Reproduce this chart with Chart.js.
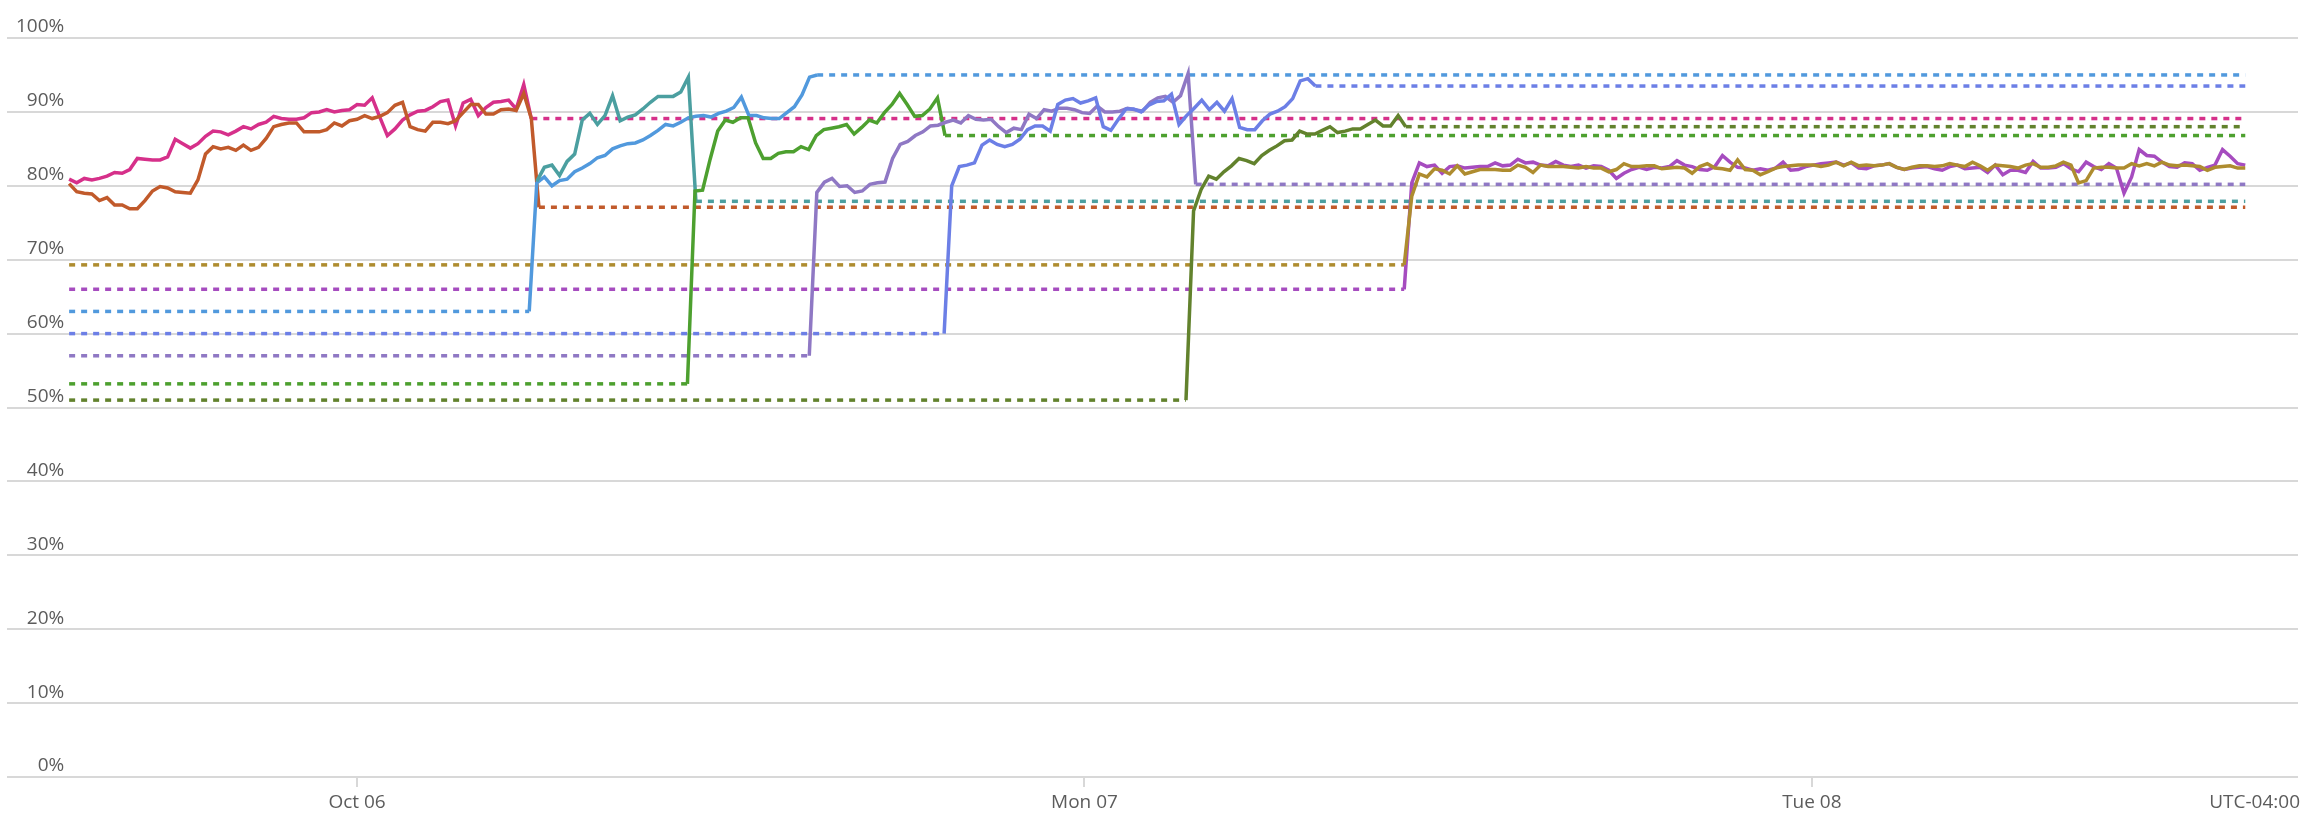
<!DOCTYPE html>
<html>
<head>
<meta charset="utf-8">
<title>Usage over time</title>
<script src="https://cdn.jsdelivr.net/npm/chart.js@4.4.1/dist/chart.umd.min.js"></script>
<style>
    html, body { margin: 0; padding: 0; background: #fff; }
    #wrap { width: 2306px; height: 824px; position: relative; }
</style>
</head>
<body>
<div id="wrap"><canvas id="usageChart"></canvas></div>
<script>
// x values are hours from Oct 06 00:00 (UTC-04:00), samples every 15 min
const hourTicks = [0, 24, 48];
const hourTickLabels = ['Oct 06', 'Mon 07', 'Tue 08'];
const zoneLabel = 'UTC-04:00';
const yTicks = [0, 10, 20, 30, 40, 50, 60, 70, 80, 90, 100];

const firstHour = -9.5;
const lastHour = 62.3;
const stepHours = 0.25;

const seriesColors = ['#d6308a', '#c15a2b', '#5199dd', '#4b9fa0', '#4da02f',
    '#8f78c4', '#6c7fe6', '#62822d', '#a64cbf', '#ae8c2f'];
// hour of first solid sample
const startHours = [-9.5, -9.5, 5.93, 5.93, 11.15, 15.17, 19.62, 27.6, 34.8, 34.8];
// flat level shown before the series starts reporting (null = none)
const levelsBefore = [null, null, 63, null, 53.2, 57, 60, 51, 66, 69.3];

const pink = [80.9, 80.4, 81.0, 80.8, 81.0, 81.3, 81.8, 81.7, 82.2, 83.7,
    83.6, 83.5, 83.5, 83.9, 86.3, 85.7, 85.1, 85.7, 86.7, 87.4,
    87.3, 86.9, 87.4, 88.0, 87.7, 88.3, 88.6, 89.4, 89.1, 89.0,
    89.0, 89.2, 89.9, 90.0, 90.3, 90.0, 90.2, 90.3, 91.0, 90.9,
    91.9, 89.3, 86.8, 87.7, 88.9, 89.6, 90.1, 90.2, 90.7, 91.4,
    91.6, 88.1, 91.2, 91.7, 89.5, 90.6, 91.3, 91.4, 91.6, 90.4,
    93.7, 89.1];
const orange = [80.3, 79.2, 79.0, 78.9, 78.0, 78.4, 77.4, 77.4, 76.9, 76.9,
    78.0, 79.3, 79.9, 79.7, 79.2, 79.1, 79.0, 80.8, 84.3, 85.3,
    85.0, 85.2, 84.8, 85.5, 84.8, 85.2, 86.4, 88.0, 88.3, 88.5,
    88.5, 87.3, 87.3, 87.3, 87.6, 88.5, 88.1, 88.8, 89.0, 89.5,
    89.1, 89.4, 89.9, 90.9, 91.3, 88.0, 87.6, 87.4, 88.6, 88.6,
    88.4, 88.8, 89.9, 91.0, 91.0, 89.7, 89.7, 90.3, 90.4, 90.2,
    92.5, 89.1, 77.1];
const skyBlue = [80.4, 81.2, 80.0, 80.7, 80.9, 81.9, 82.4, 83.0, 83.8, 84.1,
    85.0, 85.4, 85.7, 85.8, 86.2, 86.8, 87.5, 88.3, 88.1, 88.6,
    89.2, 89.4, 89.5, 89.3, 89.8, 90.1, 90.6, 92.0, 89.5, 89.5,
    89.2, 89.1, 89.1, 89.9, 90.7, 92.3, 94.7, 95.0];
const teal = [80.6, 82.5, 82.8, 81.4, 83.3, 84.3, 88.9, 89.8, 88.3, 89.5,
    92.2, 88.8, 89.3, 89.6, 90.4, 91.3, 92.1, 92.1, 92.1, 92.7,
    94.7, 77.9];
const green = [79.3, 79.4, 83.6, 87.4, 88.9, 88.6, 89.2, 89.2, 85.8, 83.7,
    83.7, 84.4, 84.6, 84.6, 85.3, 84.9, 86.8, 87.6, 87.8, 88.0,
    88.3, 87.0, 87.9, 88.9, 88.5, 89.9, 91.0, 92.5, 91.0, 89.4,
    89.5, 90.4, 91.9, 86.8];
const lavender = [79.1, 80.5, 81.0, 79.9, 80.0, 79.1, 79.3, 80.2, 80.4, 80.5,
    83.7, 85.6, 86.0, 86.8, 87.3, 88.1, 88.2, 88.6, 88.9, 88.5,
    89.5, 89.0, 88.9, 89.0, 88.0, 87.2, 87.8, 87.6, 89.7, 89.1,
    90.3, 90.1, 90.5, 90.5, 90.3, 89.9, 89.8, 90.8, 90.0, 90.0,
    90.1, 90.5, 90.3, 90.1, 91.3, 91.9, 92.1, 91.3, 92.2, 95.2,
    80.2];
const periwinkle = [80.0, 82.6, 82.8, 83.1, 85.5, 86.2, 85.6, 85.3, 85.6, 86.3,
    87.6, 88.1, 88.1, 87.4, 91.0, 91.6, 91.8, 91.2, 91.5, 91.9,
    88.0, 87.5, 89.0, 90.4, 90.4, 90.0, 90.9, 91.4, 91.5, 92.4,
    88.3, 89.5, 90.5, 91.6, 90.3, 91.3, 90.1, 91.8, 87.9, 87.6,
    87.6, 88.8, 89.7, 90.1, 90.7, 91.8, 94.2, 94.5, 93.5];
const olive = [76.6, 79.5, 81.3, 80.9, 81.9, 82.7, 83.7, 83.4, 83.0, 84.1,
    84.8, 85.4, 86.1, 86.2, 87.4, 87.0, 87.0, 87.5, 88.0, 87.2,
    87.4, 87.7, 87.7, 88.3, 88.9, 88.1, 88.1, 89.5, 88.0];
const purple = [80.4, 83.1, 82.6, 82.8, 81.7, 82.6, 82.7, 82.4, 82.5, 82.6,
    82.6, 83.1, 82.7, 82.8, 83.6, 83.1, 83.2, 82.8, 82.7, 83.3,
    82.8, 82.6, 82.8, 82.4, 82.7, 82.6, 82.1, 81.0, 81.7, 82.2,
    82.5, 82.2, 82.5, 82.4, 82.6, 83.4, 82.8, 82.6, 82.2, 82.1,
    82.6, 84.1, 83.2, 82.5, 82.4, 82.1, 82.3, 82.1, 82.4, 83.2,
    82.1, 82.2, 82.6, 82.8, 83.0, 83.1, 83.2, 82.8, 83.1, 82.4,
    82.3, 82.7, 82.8, 83.0, 82.5, 82.2, 82.4, 82.5, 82.6, 82.3,
    82.1, 82.6, 82.8, 82.3, 82.4, 82.5, 81.8, 82.8, 81.5, 82.1,
    82.1, 81.8, 83.3, 82.4, 82.4, 82.5, 83.0, 82.3, 81.9, 83.2,
    82.6, 82.2, 83.0, 82.4, 79.0, 81.2, 84.9, 84.1, 84.0, 83.2,
    82.6, 82.5, 83.1, 83.0, 82.1, 82.5, 82.8, 84.9, 84.0, 83.0,
    82.8];
const gold = [78.6, 81.6, 81.2, 82.3, 82.1, 81.6, 82.7, 81.6, 81.9, 82.2,
    82.2, 82.2, 82.1, 82.1, 82.8, 82.5, 81.8, 82.8, 82.6, 82.6,
    82.6, 82.5, 82.4, 82.6, 82.4, 82.4, 81.9, 82.2, 83.0, 82.6,
    82.6, 82.7, 82.7, 82.3, 82.4, 82.5, 82.4, 81.7, 82.6, 83.0,
    82.4, 82.3, 82.1, 83.5, 82.2, 82.1, 81.5, 81.9, 82.4, 82.6,
    82.7, 82.8, 82.8, 82.8, 82.6, 82.8, 83.2, 82.7, 83.2, 82.7,
    82.8, 82.7, 82.8, 83.0, 82.5, 82.2, 82.5, 82.7, 82.7, 82.6,
    82.7, 83.0, 82.8, 82.6, 83.2, 82.7, 82.1, 82.8, 82.7, 82.6,
    82.4, 82.8, 83.0, 82.5, 82.5, 82.7, 83.2, 82.8, 80.4, 80.7,
    82.4, 82.5, 82.5, 82.4, 82.4, 83.0, 82.7, 83.0, 82.7, 83.2,
    82.8, 82.7, 82.8, 82.7, 82.6, 82.1, 82.5, 82.6, 82.7, 82.4,
    82.4];

const seriesValues = [pink, orange, skyBlue, teal, green, lavender, periwinkle, olive, purple, gold];

const labelFont = { family: "'Open Sans', 'Noto Sans', sans-serif", size: 19 };
const labelColor = '#5c5c5c';
const gridColor = '#d8d8d8';
const lineWidth = 3.5;

function buildDatasets() {
    const dotted = [];
    const solid = [];
    seriesValues.forEach((vals, i) => {
        const color = seriesColors[i];
        const t0 = startHours[i];
        const pts = vals.map((v, k) => ({ x: t0 + k * stepHours, y: v }));
        const before = levelsBefore[i];
        if (before !== null) {
            // jump from the flat level into the first sample is drawn solid
            pts.unshift({ x: t0 - stepHours, y: before });
            dotted.push({ data: [{ x: firstHour, y: before }, { x: t0 - stepHours, y: before }], color });
        }
        const last = pts[pts.length - 1];
        if (last.x < lastHour - 0.1) {
            dotted.push({ data: [{ x: last.x, y: last.y }, { x: lastHour, y: last.y }], color });
        }
        solid.push({
            data: pts, borderColor: color, borderWidth: lineWidth,
            pointRadius: 0, tension: 0, order: 50 - i
        });
    });
    return dotted.map(d => ({
        data: d.data, borderColor: d.color, borderWidth: lineWidth, borderDash: [6, 6],
        pointRadius: 0, order: 100
    })).concat(solid);
}

// time zone caption at the right end of the x axis
const zoneCaption = {
    id: 'zoneCaption',
    afterDraw(chart) {
        const { ctx, chartArea } = chart;
        const xs = chart.scales.x;
        ctx.save();
        ctx.font = `${labelFont.size}px ${labelFont.family}`;
        ctx.fillStyle = labelColor;
        ctx.textAlign = 'right';
        ctx.textBaseline = 'middle';
        ctx.fillText(zoneLabel, chartArea.right + 2, xs.top + 26);
        ctx.restore();
    }
};

const ctx = document.getElementById('usageChart').getContext('2d');
new Chart(ctx, {
    type: 'line',
    data: { datasets: buildDatasets() },
    plugins: [zoneCaption],
    options: {
        responsive: true,
        maintainAspectRatio: false,
        animation: false,
        layout: { padding: { left: 7, right: 8, top: 38, bottom: 0 } },
        plugins: { legend: { display: false }, tooltip: { enabled: false } },
        scales: {
            x: {
                type: 'linear',
                min: -11.55,
                max: 64.04,
                afterBuildTicks: s => { s.ticks = hourTicks.map(v => ({ value: v })); },
                afterFit: s => { s.height = 47; },
                border: { display: false },
                grid: { drawOnChartArea: false, drawTicks: true, tickLength: 10, color: gridColor, lineWidth: 2 },
                ticks: {
                    autoSkip: false, maxRotation: 0, padding: 4,
                    font: labelFont, color: labelColor,
                    callback: v => hourTickLabels[hourTicks.indexOf(v)]
                }
            },
            y: {
                min: 0,
                max: 100,
                afterBuildTicks: s => { s.ticks = yTicks.map(v => ({ value: v })); },
                afterFit: s => { s.width = 0; },
                border: { display: false },
                grid: { drawTicks: false, color: gridColor, lineWidth: 2 },
                ticks: {
                    mirror: true, crossAlign: 'far', padding: 9, labelOffset: -11,
                    font: labelFont, color: labelColor,
                    callback: v => v + '%'
                }
            }
        }
    }
});
</script>
</body>
</html>
